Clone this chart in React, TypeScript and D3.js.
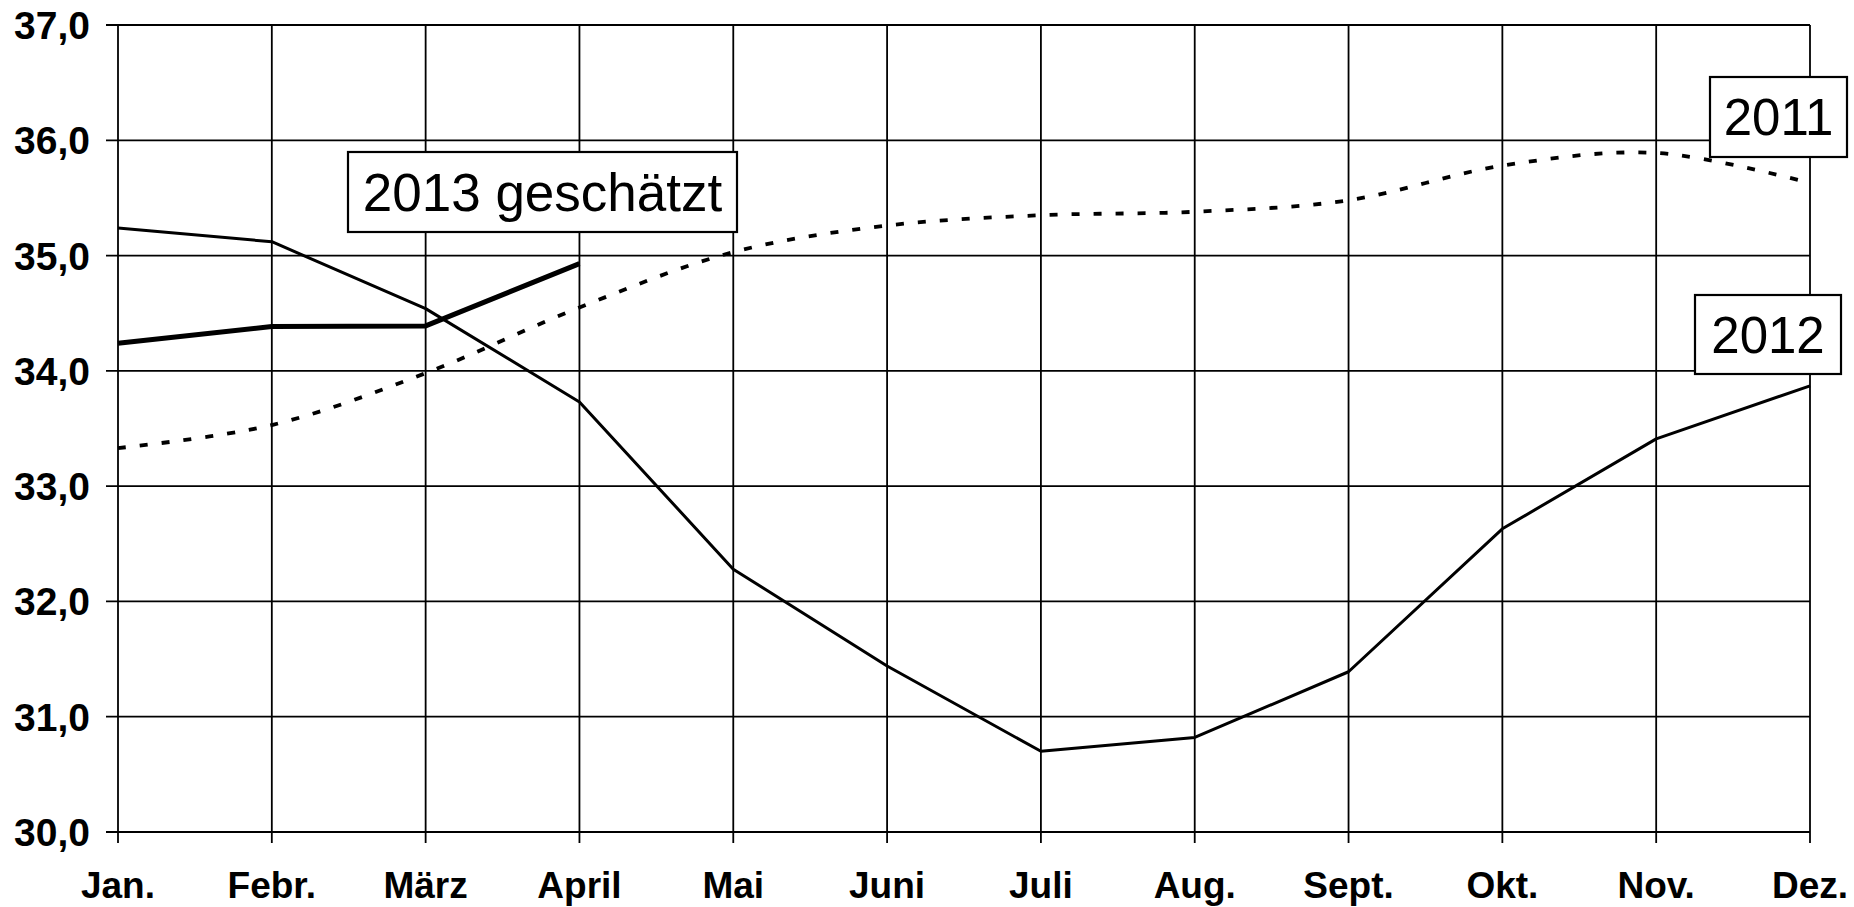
import React from "react";
import {scaleLinear, scalePoint, line, curveCatmullRom, curveLinear, range} from "d3";

const months = ["Jan.", "Febr.", "März", "April", "Mai", "Juni", "Juli", "Aug.", "Sept.", "Okt.", "Nov.", "Dez."];
const yTicks = [30, 31, 32, 33, 34, 35, 36, 37];

const values2011 = [33.33, 33.53, 33.98, 34.55, 35.03, 35.26, 35.35, 35.38, 35.48, 35.78, 35.89, 35.63];
const values2012 = [35.24, 35.12, 34.54, 33.73, 32.28, 31.44, 30.7, 30.82, 31.39, 32.63, 33.41, 33.87];
const values2013 = [34.24, 34.385, 34.39, 34.93];

const width = 1854;
const height = 907;
const marginLeft = 118;
const marginRight = 44;
const marginTop = 25;
const marginBottom = 75;
const font = "'Liberation Sans', Arial, sans-serif";

export default function App() {
    const x = scalePoint<string>()
        .domain(months)
        .range([marginLeft, width - marginRight]);
    const y = scaleLinear()
        .domain([30, 37])
        .range([height - marginBottom, marginTop]);

    const xAt = (i: number) => x(months[i]) || 0;

    const straight = line<number>()
        .x((d, i) => xAt(i))
        .y((d) => y(d))
        .curve(curveLinear);
    const smooth = line<number>()
        .x((d, i) => xAt(i))
        .y((d) => y(d))
        .curve(curveCatmullRom.alpha(0.5));

    const x0 = x.range()[0];
    const x1 = x.range()[1];
    const y0 = y(30);
    const y1 = y(37);

    // label boxes: [text, left, top, w, h, font size]
    const boxes: [string, number, number, number, number, number][] = [
        ["2013 geschätzt", 348, 152, 389, 80, 53],
        ["2011", 1710, 77, 137, 80, 51],
        ["2012", 1695, 295, 146, 79, 51],
    ];

    return (
        <svg
            width={width}
            height={height}
            style={{position: "absolute", left: 0, top: 0, background: "#fff"}}
        >
            {/* horizontal grid + left ticks */}
            {yTicks.map((t) => (
                <g key={t}>
                    <line x1={x0 - 12} x2={x1} y1={y(t)} y2={y(t)} stroke="#000" strokeWidth={1.8} />
                    <text
                        x={90}
                        y={y(t)}
                        dy="0.36em"
                        textAnchor="end"
                        fontFamily={font}
                        fontWeight="bold"
                        fontSize={39}
                    >
                        {t.toFixed(1).replace(".", ",")}
                    </text>
                </g>
            ))}
            {/* vertical grid + bottom ticks */}
            {range(months.length).map((i) => (
                <g key={months[i]}>
                    <line x1={xAt(i)} x2={xAt(i)} y1={y1} y2={y0 + 11} stroke="#000" strokeWidth={1.8} />
                    <text
                        x={xAt(i)}
                        y={898}
                        textAnchor="middle"
                        fontFamily={font}
                        fontWeight="bold"
                        fontSize={37}
                    >
                        {months[i]}
                    </text>
                </g>
            ))}

            <path d={smooth(values2011) || ""} fill="none" stroke="#000" strokeWidth={3.8} strokeDasharray="8 14" />
            <path d={straight(values2012) || ""} fill="none" stroke="#000" strokeWidth={3} strokeLinejoin="round" />
            <path d={straight(values2013) || ""} fill="none" stroke="#000" strokeWidth={5} strokeLinejoin="round" />

            {boxes.map(([label, bx, by, bw, bh, fs]) => (
                <g key={label}>
                    <rect x={bx} y={by} width={bw} height={bh} fill="#fff" stroke="#000" strokeWidth={2.2} />
                    <text
                        x={bx + bw / 2}
                        y={by + bh / 2}
                        dy="0.36em"
                        textAnchor="middle"
                        fontFamily={font}
                        fontSize={fs}
                    >
                        {label}
                    </text>
                </g>
            ))}
        </svg>
    );
}
